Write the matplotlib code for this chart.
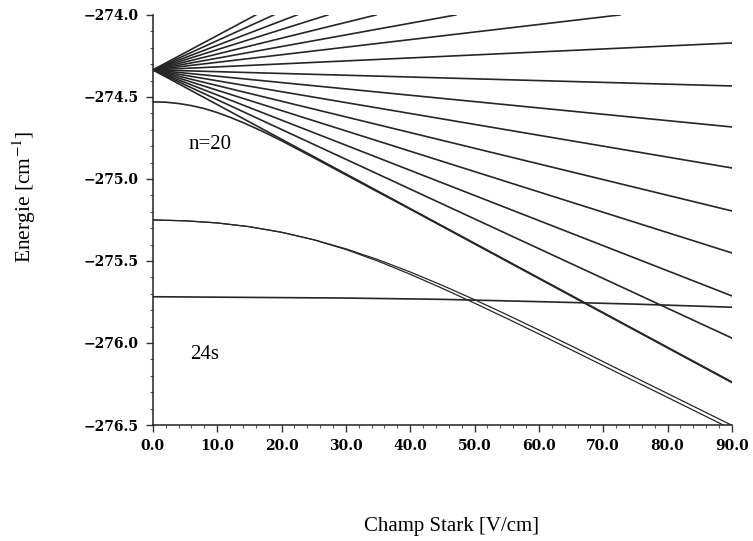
import matplotlib
matplotlib.use("Agg")
import matplotlib.pyplot as plt
from matplotlib.ticker import MultipleLocator, FuncFormatter

plt.rcParams['mathtext.fontset'] = 'stix'

# n=20 Stark fan: common origin, then where each line leaves the plot
fan_origin_F = 0.0
fan_origin_E = -274.335
# lines that leave through the top (E = -274.0), field value there
top_exit_F = [16.0, 18.8, 22.4, 27.2, 34.7, 47.1, 72.6]
top_exit_E = -274.0
# lines that reach F = 90, energy there
right_exit_F = 90.0
right_exit_E = [-274.171, -274.433, -274.683, -274.933, -275.195,
                -275.451, -275.713, -275.970, -276.238]

# lowest n=20 state, starting below the fan and joining its lowest line
low_F = [0, 2, 4, 6, 8, 10, 12, 14, 16, 18, 20, 25, 30, 40, 60, 90]
low_E = [-274.530, -274.532, -274.540, -274.553, -274.571, -274.595,
         -274.624, -274.656, -274.691, -274.728, -274.767, -274.870,
         -274.975, -275.184, -275.607, -276.241]

# the double curve starting at -275.25
pair_F = [0, 5, 10, 15, 20, 25, 30, 35, 40, 45, 50, 55, 60, 65, 70, 75, 80, 85, 90]
pair_upper = [-275.250, -275.255, -275.268, -275.291, -275.325, -275.370,
              -275.426, -275.492, -275.567, -275.649, -275.736, -275.827,
              -275.921, -276.017, -276.114, -276.211, -276.308, -276.405,
              -276.502]
pair_lower = [-275.250, -275.255, -275.268, -275.291, -275.325, -275.371,
              -275.430, -275.501, -275.581, -275.667, -275.757, -275.850,
              -275.945, -276.041, -276.138, -276.235, -276.332, -276.429,
              -276.526]

# 24s level
s24_F = [0, 30, 45, 60, 75, 90]
s24_E = [-275.718, -275.726, -275.734, -275.748, -275.763, -275.782]

line_col = '#262626'
lw = 1.2

fig = plt.figure(figsize=(7.53, 5.41), dpi=100)
ax = fig.add_axes([0.203, 0.2144, 0.769, 0.758])

for F in top_exit_F:
    ax.plot([fan_origin_F, F], [fan_origin_E, top_exit_E], color=line_col, lw=lw)
for E in right_exit_E:
    ax.plot([fan_origin_F, right_exit_F], [fan_origin_E, E], color=line_col, lw=lw)

ax.plot(low_F, low_E, color=line_col, lw=lw)
ax.plot(pair_F, pair_upper, color=line_col, lw=0.9)
ax.plot(pair_F, pair_lower, color=line_col, lw=0.9)
ax.plot(s24_F, s24_E, color=line_col, lw=lw)

ax.text(8.9, -274.79, 'n=20', family='Liberation Serif', fontsize=15,
        va='center', ha='center')
ax.text(8.1, -276.07, '24s', family='Liberation Serif', fontsize=15,
        va='center', ha='center')

ax.set_xlim(0, 90)
ax.set_ylim(-276.5, -274.0)

ax.spines['top'].set_visible(False)
ax.spines['right'].set_visible(False)
for s in ('left', 'bottom'):
    ax.spines[s].set_linewidth(1.1)
    ax.spines[s].set_color('#222222')

ax.xaxis.set_major_locator(MultipleLocator(10))
ax.xaxis.set_minor_locator(MultipleLocator(2))
ax.yaxis.set_major_locator(MultipleLocator(0.5))
ax.yaxis.set_minor_locator(MultipleLocator(0.1))
fmt = FuncFormatter(lambda v, pos: f"{v:.1f}".replace('-', '\u2212'))
ax.xaxis.set_major_formatter(fmt)
ax.yaxis.set_major_formatter(fmt)

ax.tick_params(which='major', direction='out', length=5, width=1.0,
               color='#333333', pad=5)
ax.tick_params(which='minor', direction='out', length=2.5, width=0.8,
               color='#555555')
for lab in ax.get_xticklabels() + ax.get_yticklabels():
    lab.set_family('DejaVu Serif')
    lab.set_fontweight('bold')
    lab.set_fontsize(10)

fig.text(451 / 753, 1 - 527 / 541, 'Champ Stark [V/cm]', family='Liberation Serif',
         fontsize=15, ha='center', va='center')
fig.text(24 / 753, 1 - 197 / 541, 'Energie [cm$^{-1}$]', family='Liberation Serif',
         fontsize=15.5, ha='center', va='center', rotation=90)

fig.savefig('out.png', dpi=100)
